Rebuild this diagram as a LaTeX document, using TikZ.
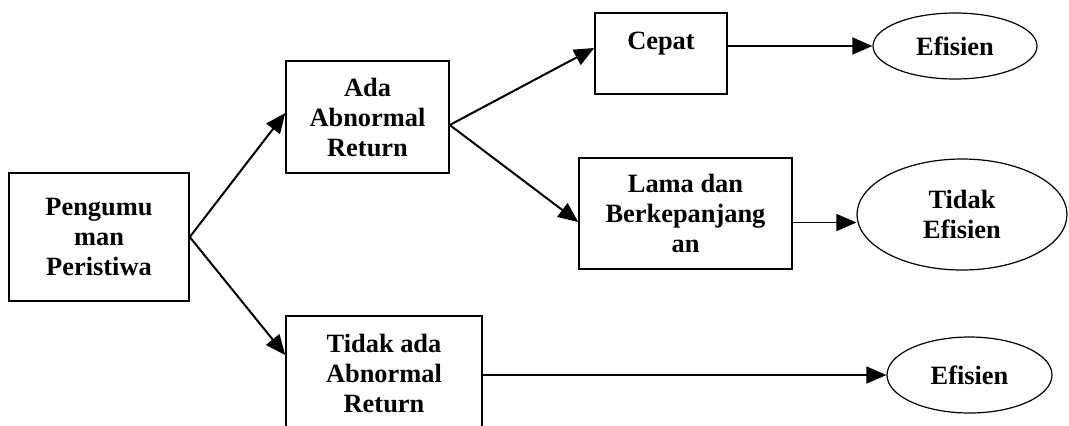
\documentclass[tikz,border=0pt]{standalone}
\usepackage{fontspec}
\setmainfont{Liberation Serif}
\usetikzlibrary{arrows.meta,shapes.geometric,positioning}

\begin{document}
\begin{tikzpicture}[x=0.5pt,y=-0.5pt,
	box/.style={draw,line width=0.75pt,align=center,inner sep=0pt,font=\fontsize{13.2}{15}\selectfont\bfseries},
	oval/.style={ellipse,draw,line width=0.6pt,align=center,inner sep=0pt,font=\fontsize{13.2}{15}\selectfont\bfseries},
	>={Triangle[length=10pt,width=8.5pt]}]
	\useasboundingbox (0,0) rectangle (1069,425);
	\node[box,minimum width=90pt,minimum height=64pt](peng) at (99,237) {Pengumu\\man\\Peristiwa};
	\node[box,minimum width=81.5pt,minimum height=56pt](ada) at (367.5,117) {Ada\\Abnormal\\Return};
	\node[box,minimum width=98pt,minimum height=57pt](tidakada) at (384,373) {Tidak ada\\Abnormal\\Return};
	\node[box,minimum width=66pt,minimum height=40.5pt](cepat) at (661,53.5) {Cepat\\[-2pt]\mbox{}};
	\node[box,minimum width=106.5pt,minimum height=55.5pt](lama) at (685.5,213.5) {Lama dan\\Berkepanjang\\an};
	\node[oval,minimum width=82pt,minimum height=33pt](ef1) at (955,46) {Efisien};
	\node[oval,minimum width=105pt,minimum height=55.5pt](te) at (962,214.5) {Tidak\\Efisien};
	\node[oval,minimum width=82.5pt,minimum height=38pt](ef2) at (969.5,375) {Efisien};
	\path[->,line width=1pt]
	(peng.east) edge ([yshift=2pt]ada.west)
	(peng.east) edge ([yshift=9pt]tidakada.west)
	([yshift=-4pt]ada.east) edge ([yshift=2.75pt]cepat.west)
	([yshift=-4pt]ada.east) edge ([yshift=-4.25pt]lama.west);
	\path[->,line width=0.7pt]
	(cepat.east |- ef1.west) edge (ef1.west)
	([yshift=-4.5pt]lama.east) edge ([yshift=-4.5pt]lama.east -| te.west)
	(tidakada.east |- ef2.west) edge (ef2.west);
\end{tikzpicture}
\end{document}
